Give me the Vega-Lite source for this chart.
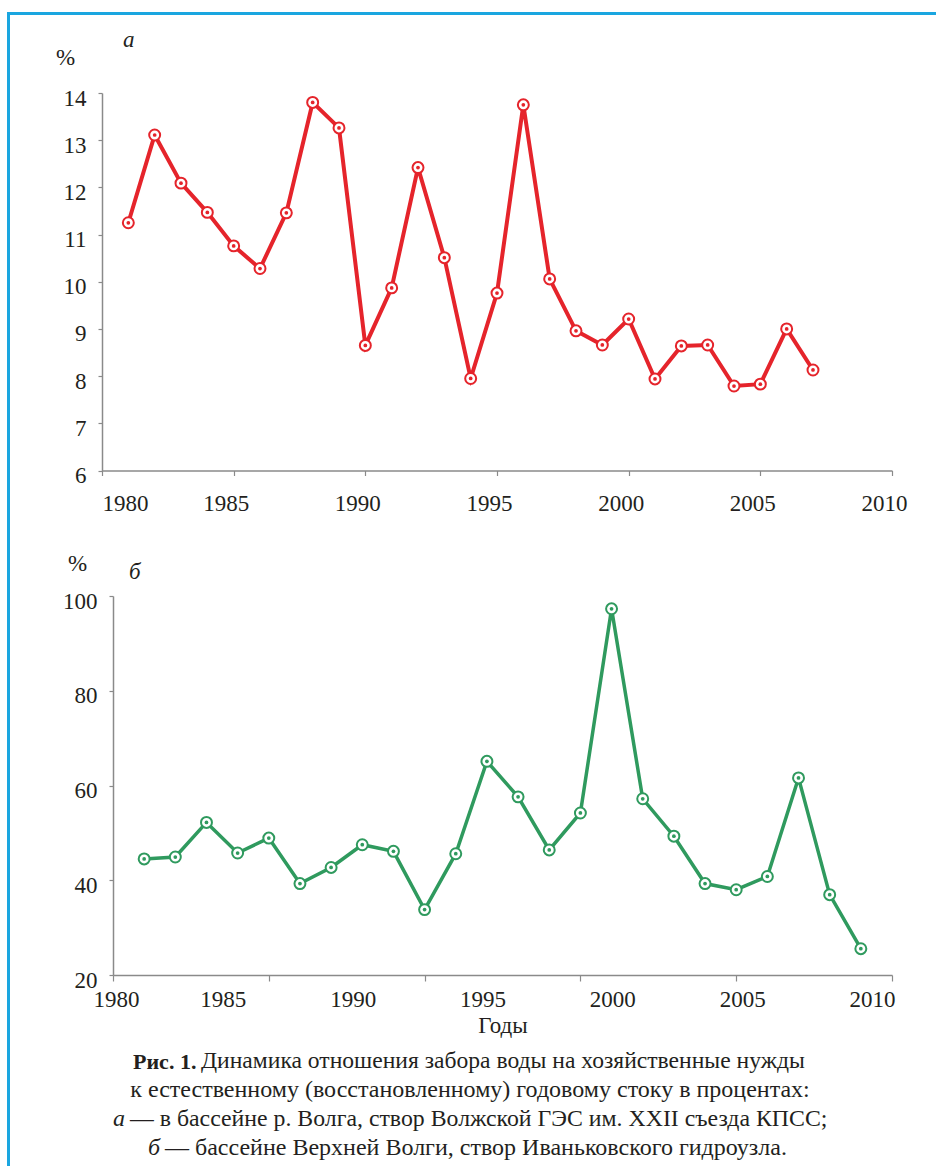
{
  "$schema": "https://vega.github.io/schema/vega-lite/v6.json",
  "padding": {"left": 7, "top": 12, "right": 0, "bottom": 0},
  "background": "white",
  "config": {
    "font": "Liberation Serif",
    "view": {"stroke": null},
    "concat": {"spacing": 0},
    "axis": {
      "labelFont": "Liberation Serif", "labelFontSize": 23, "labelColor": "#231f20",
      "titleFont": "Liberation Serif", "titleFontSize": 23, "titleFontWeight": "normal", "titleColor": "#231f20",
      "domainColor": "#8a8a8a", "tickColor": "#8a8a8a", "domainWidth": 1.5, "tickWidth": 1.2,
      "grid": false, "labelOverlap": false, "labelFlush": false
    },
    "title": {"font": "Liberation Serif", "fontWeight": "normal", "color": "#231f20", "fontSize": 23}
  },
  "datasets": {
    "volga": [
      {"year": 1981, "pct": 11.25}, {"year": 1982, "pct": 13.11}, {"year": 1983, "pct": 12.09},
      {"year": 1984, "pct": 11.47}, {"year": 1985, "pct": 10.76}, {"year": 1986, "pct": 10.28},
      {"year": 1987, "pct": 11.46}, {"year": 1988, "pct": 13.80}, {"year": 1989, "pct": 13.26},
      {"year": 1990, "pct": 8.65}, {"year": 1991, "pct": 9.87}, {"year": 1992, "pct": 12.42},
      {"year": 1993, "pct": 10.51}, {"year": 1994, "pct": 7.95}, {"year": 1995, "pct": 9.76},
      {"year": 1996, "pct": 13.75}, {"year": 1997, "pct": 10.06}, {"year": 1998, "pct": 8.96},
      {"year": 1999, "pct": 8.66}, {"year": 2000, "pct": 9.21}, {"year": 2001, "pct": 7.94},
      {"year": 2002, "pct": 8.64}, {"year": 2003, "pct": 8.66}, {"year": 2004, "pct": 7.79},
      {"year": 2005, "pct": 7.83}, {"year": 2006, "pct": 9.00}, {"year": 2007, "pct": 8.13}
    ],
    "upper_volga": [
      {"year": 1981, "pct": 44.5}, {"year": 1982, "pct": 44.9}, {"year": 1983, "pct": 52.2},
      {"year": 1984, "pct": 45.75}, {"year": 1985, "pct": 48.9}, {"year": 1986, "pct": 39.3},
      {"year": 1987, "pct": 42.7}, {"year": 1988, "pct": 47.5}, {"year": 1989, "pct": 46.1},
      {"year": 1990, "pct": 33.8}, {"year": 1991, "pct": 45.6}, {"year": 1992, "pct": 65.1},
      {"year": 1993, "pct": 57.6}, {"year": 1994, "pct": 46.4}, {"year": 1995, "pct": 54.2},
      {"year": 1996, "pct": 97.3}, {"year": 1997, "pct": 57.2}, {"year": 1998, "pct": 49.3},
      {"year": 1999, "pct": 39.3}, {"year": 2000, "pct": 38.0}, {"year": 2001, "pct": 40.8},
      {"year": 2002, "pct": 61.6}, {"year": 2003, "pct": 36.95}, {"year": 2004, "pct": 25.55}
    ],
    "year_labels": [
      {"label": 1980}, {"label": 1985}, {"label": 1990}, {"label": 1995},
      {"label": 2000}, {"label": 2005}, {"label": 2010}
    ],
    "none": []
  },
  "vconcat": [
    {"width": 929, "height": 3, "data": {"name": "none"}, "mark": "point", "view": {"fill": "#1aa6e0", "stroke": null}},
    {
      "hconcat": [
        {"width": 3, "height": 1151, "data": {"name": "none"}, "mark": "point", "view": {"fill": "#1aa6e0", "stroke": null}},
        {
          "vconcat": [
            {"width": 1, "height": 14, "data": {"name": "none"}, "mark": "point"},
            {
              "hconcat": [
                {"width": 44.1, "height": 1, "data": {"name": "none"}, "mark": "point"},
                {
                  "width": 790, "height": 377.5,
                  "data": {"name": "volga"},
                  "title": {"text": "а", "anchor": "start", "frame": "group", "dx": 21, "fontStyle": "italic", "baseline": "alphabetic", "offset": -24},
                  "encoding": {
                    "x": {
                      "field": "year", "type": "quantitative",
                      "scale": {"domain": [1980, 2010], "nice": false, "zero": false},
                      "axis": {
                        "values": [1980, 1985, 1990, 1995, 2000, 2005, 2010], "format": "d", "title": null,
                        "tickSize": 5, "labelPadding": 17, "labelBaseline": "top",
                        "labelAlign": {"condition": {"test": "datum.value == 1980", "value": "left"}, "value": "center"},
                        "labelOffset": {"condition": {"test": "datum.value == 1980", "value": 0}, "value": -8}
                      }
                    },
                    "y": {
                      "field": "pct", "type": "quantitative",
                      "scale": {"domain": [6, 14], "nice": false, "zero": false},
                      "axis": {
                        "values": [6, 7, 8, 9, 10, 11, 12, 13, 14],
                        "title": "%", "titleAngle": 0, "titleX": -37, "titleY": -29,
                        "titleAlign": "center", "titleBaseline": "alphabetic",
                        "tickSize": 4, "labelPadding": 12, "labelOffset": 5, "labelBaseline": "middle"
                      }
                    }
                  },
                  "layer": [
                    {"mark": {"type": "line", "color": "#e5242b", "strokeWidth": 4}},
                    {"mark": {"type": "point", "shape": "circle", "filled": true, "fill": "white", "stroke": "#e5242b", "strokeWidth": 2, "size": 120, "opacity": 1}},
                    {"mark": {"type": "circle", "color": "#e5242b", "size": 14, "opacity": 1}}
                  ]
                }
              ]
            },
            {"width": 1, "height": 35.3, "data": {"name": "none"}, "mark": "point"},
            {
              "hconcat": [
                {"width": 51.2, "height": 1, "data": {"name": "none"}, "mark": "point"},
                {
                  "width": 779, "height": 379,
                  "title": {"text": "б", "anchor": "start", "frame": "group", "dx": 16, "fontStyle": "italic", "baseline": "alphabetic", "offset": -50},
                  "layer": [
                    {
                      "data": {"name": "upper_volga"},
                      "encoding": {
                        "x": {
                          "field": "year", "type": "quantitative",
                          "scale": {"domain": [1980, 2005], "nice": false, "zero": false},
                          "axis": {"values": [1980, 1985, 1990, 1995, 2000, 2005], "labels": false, "title": null, "tickSize": 6, "orient": "bottom"}
                        },
                        "y": {
                          "field": "pct", "type": "quantitative",
                          "scale": {"domain": [20, 100], "nice": false, "zero": false},
                          "axis": {
                            "values": [20, 40, 60, 80, 100],
                            "title": "%", "titleAngle": 0, "titleX": -36, "titleY": -26,
                            "titleAlign": "center", "titleBaseline": "alphabetic",
                            "tickSize": 4, "labelPadding": 12, "labelOffset": 5, "labelBaseline": "middle"
                          }
                        }
                      },
                      "layer": [
                        {"mark": {"type": "line", "color": "#2f9a5e", "strokeWidth": 3.5}},
                        {"mark": {"type": "point", "shape": "circle", "filled": true, "fill": "white", "stroke": "#2f9a5e", "strokeWidth": 2, "size": 120, "opacity": 1}},
                        {"mark": {"type": "circle", "color": "#2f9a5e", "size": 14, "opacity": 1}}
                      ]
                    },
                    {
                      "data": {"name": "year_labels"},
                      "mark": {"type": "tick", "opacity": 0},
                      "encoding": {
                        "x": {
                          "field": "label", "type": "quantitative",
                          "scale": {"domain": [1980, 2010], "nice": false, "zero": false},
                          "axis": {
                            "orient": "bottom", "values": [1980, 1985, 1990, 1995, 2000, 2005, 2010], "format": "d",
                            "domain": false, "ticks": false, "tickSize": 0, "labelPadding": 13, "labelBaseline": "top",
                            "labelOffset": {"condition": {"test": "datum.value == 1980", "value": 3}, "value": -20},
                            "title": "Годы", "titlePadding": 3.5
                          }
                        }
                      }
                    }
                  ],
                  "resolve": {"scale": {"x": "independent"}, "axis": {"x": "independent"}}
                }
              ]
            },
            {"width": 1, "height": 10.7, "data": {"name": "none"}, "mark": "point"},
            {
              "hconcat": [
                {"width": 123, "height": 1, "data": {"name": "none"}, "mark": "point"},
                {"width": 68, "height": 10.2, "data": {"name": "none"}, "mark": "point",
                 "title": {"text": "Рис. 1.", "anchor": "start", "fontWeight": "bold", "fontSize": 22, "baseline": "alphabetic", "offset": -24}},
                {"width": 600, "height": 10.2, "data": {"name": "none"}, "mark": "point",
                 "title": {"text": "Динамика отношения забора воды на хозяйственные нужды", "anchor": "start", "fontSize": 23.6, "baseline": "alphabetic", "offset": -25}}
              ]
            },
            {
              "hconcat": [
                {"width": 60, "height": 1, "data": {"name": "none"}, "mark": "point"},
                {"width": 800, "height": 10.2, "data": {"name": "none"}, "mark": "point",
                 "title": {"text": "к естественному (восстановленному) годовому стоку в процентах:", "anchor": "middle", "fontSize": 24, "baseline": "alphabetic", "offset": -25}}
              ]
            },
            {
              "hconcat": [
                {"width": 103, "height": 1, "data": {"name": "none"}, "mark": "point"},
                {"width": 17, "height": 10.2, "data": {"name": "none"}, "mark": "point",
                 "title": {"text": "а", "anchor": "start", "fontStyle": "italic", "fontSize": 24, "baseline": "alphabetic", "offset": -25}},
                {"width": 690, "height": 10.2, "data": {"name": "none"}, "mark": "point",
                 "title": {"text": "— в бассейне р. Волга, створ Волжской ГЭС им. XXII съезда КПСС;", "anchor": "start", "fontSize": 23.8, "baseline": "alphabetic", "offset": -25}}
              ]
            },
            {
              "hconcat": [
                {"width": 138, "height": 1, "data": {"name": "none"}, "mark": "point"},
                {"width": 17, "height": 5, "data": {"name": "none"}, "mark": "point",
                 "title": {"text": "б", "anchor": "start", "fontStyle": "italic", "fontSize": 24, "baseline": "alphabetic", "offset": -25}},
                {"width": 620, "height": 5, "data": {"name": "none"}, "mark": "point",
                 "title": {"text": "— бассейне Верхней Волги, створ Иваньковского гидроузла.", "anchor": "start", "fontSize": 24, "baseline": "alphabetic", "offset": -25}}
              ]
            }
          ],
          "spacing": 0
        }
      ],
      "spacing": 0
    }
  ],
  "spacing": 0
}
